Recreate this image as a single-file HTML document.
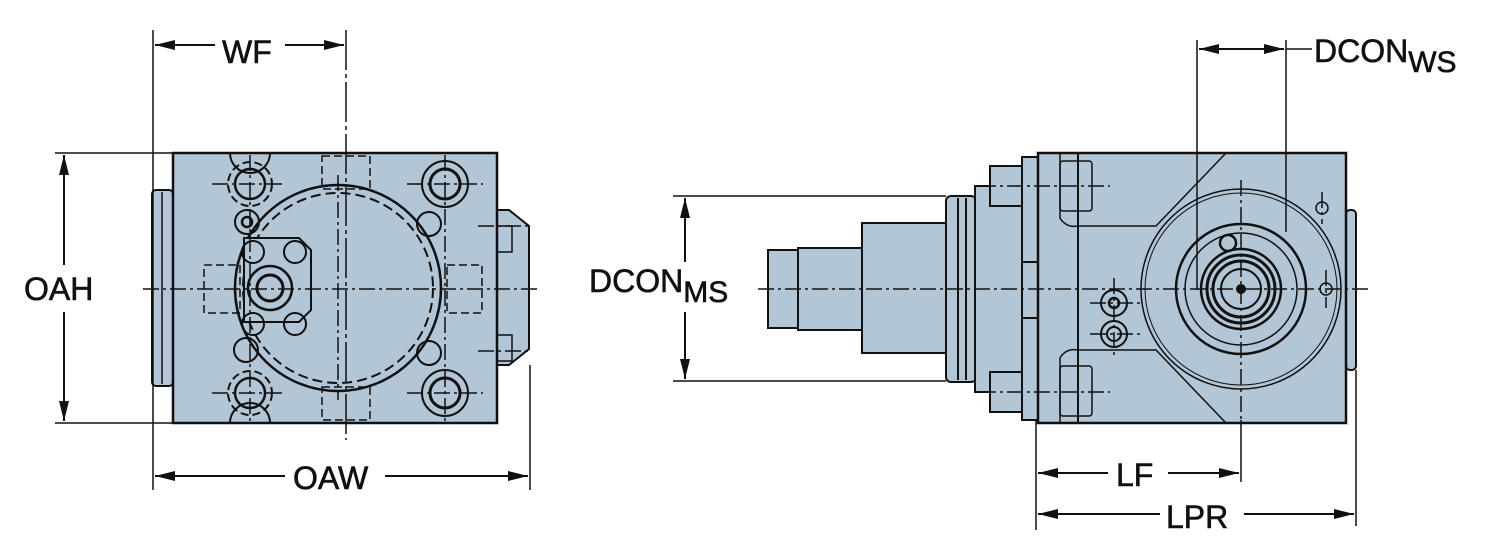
<!DOCTYPE html>
<html><head><meta charset="utf-8"><style>
html,body{margin:0;padding:0;background:#fff;width:1500px;height:542px;overflow:hidden}
svg{display:block}
text{font-family:"Liberation Sans",sans-serif;font-size:32px;fill:#111;stroke:#111;stroke-width:0.6}
</style></head><body>
<svg width="1500" height="542" viewBox="0 0 1500 542" xmlns="http://www.w3.org/2000/svg">
<defs>
<marker id="a" viewBox="0 0 20 10" refX="20" refY="5" markerWidth="20" markerHeight="10" markerUnits="userSpaceOnUse" orient="auto-start-reverse"><path d="M0,0 L20,5 L0,10 z" fill="#111"/></marker>
</defs>
<g stroke="#111" fill="none" stroke-width="2">
<!-- LEFT VIEW -->
<rect x="152" y="190" width="21" height="196" rx="4" fill="#b2c6d5"/>
<line x1="162" y1="192" x2="162" y2="384" stroke-width="1.5"/>
<path d="M497,210 h12 l20,16 v123 l-20,16 h-12 z" fill="#b2c6d5"/>
<rect x="497" y="226" width="15" height="26" fill="#b2c6d5" stroke-width="1.5"/>
<rect x="497" y="335" width="15" height="26" fill="#b2c6d5" stroke-width="1.5"/>
<rect x="173" y="153" width="324" height="270" fill="#b2c6d5" stroke-width="2.5"/>
<path d="M230,153 a20,20 0 0 0 40,0 M230,423 a20,20 0 0 1 40,0" stroke-width="2"/>
<circle cx="338" cy="288" r="103" stroke-width="2.5"/>
<circle cx="338" cy="288" r="95" stroke-dasharray="10,5"/>
<path d="M244,238 h55 l12,12 v60 l-12,12 h-55 z" fill="#b2c6d5"/>
<circle cx="270" cy="288" r="22" stroke-width="2.5"/><circle cx="270" cy="288" r="13" stroke-width="3"/>
<circle cx="253" cy="252" r="11"/><circle cx="295" cy="252" r="11"/><circle cx="253" cy="324" r="11"/><circle cx="295" cy="324" r="11"/>
<circle cx="247" cy="222" r="12"/><circle cx="247" cy="222" r="5" stroke-width="2.5"/>
<circle cx="246" cy="350" r="12"/>
<circle cx="429" cy="224" r="12"/><circle cx="429" cy="353" r="12"/>
<circle cx="250" cy="184" r="22" stroke-dasharray="8,4"/><circle cx="250" cy="184" r="15" stroke-width="2.5"/>
<circle cx="250" cy="393" r="22" stroke-dasharray="8,4"/><circle cx="250" cy="393" r="15" stroke-width="2.5"/>
<circle cx="445" cy="184" r="23"/><circle cx="445" cy="184" r="15" stroke-width="3"/>
<circle cx="445" cy="393" r="23"/><circle cx="445" cy="393" r="15" stroke-width="3"/>
<g stroke-dasharray="8,4" stroke-width="1.5">
<rect x="322" y="156" width="48" height="33"/><rect x="322" y="387" width="48" height="33"/>
<rect x="204" y="265" width="36" height="48"/><rect x="447" y="265" width="35" height="48"/>
</g>
<g stroke-dasharray="16,4,3,4" stroke-width="1.5">
<line x1="143" y1="289" x2="540" y2="289"/>
<line x1="338" y1="175" x2="338" y2="400"/>
<line x1="212" y1="184" x2="285" y2="184"/><line x1="212" y1="393" x2="285" y2="393"/>
<line x1="407" y1="184" x2="483" y2="184"/><line x1="407" y1="393" x2="483" y2="393"/>
<line x1="445" y1="155" x2="445" y2="425"/><line x1="250" y1="155" x2="250" y2="425"/>
<line x1="478" y1="226" x2="530" y2="226"/><line x1="478" y1="351" x2="530" y2="351"/>
</g>
<!-- left dims -->
<line x1="153" y1="30" x2="153" y2="490" stroke-width="1.5"/>
<line x1="346" y1="30" x2="346" y2="440" stroke-width="1.5" stroke-dasharray="40,4,4,4"/>
<line x1="530" y1="365" x2="530" y2="490" stroke-width="1.5"/>
<line x1="155" y1="45" x2="215" y2="45" marker-start="url(#a)"/>
<line x1="285" y1="45" x2="344" y2="45" marker-end="url(#a)"/>
<line x1="55" y1="153" x2="173" y2="153" stroke-width="1.5"/>
<line x1="55" y1="423" x2="173" y2="423" stroke-width="1.5"/>
<line x1="64" y1="155" x2="64" y2="265" marker-start="url(#a)"/>
<line x1="64" y1="312" x2="64" y2="421" marker-end="url(#a)"/>
<line x1="155" y1="476" x2="285" y2="476" marker-start="url(#a)"/>
<line x1="385" y1="476" x2="528" y2="476" marker-end="url(#a)"/>

<!-- RIGHT VIEW -->
<rect x="768" y="250" width="32" height="78" fill="#b2c6d5"/>
<rect x="798" y="248" width="66" height="82" fill="#b2c6d5"/>
<rect x="862" y="223" width="86" height="130" fill="#b2c6d5"/>
<rect x="946" y="196" width="30" height="186" rx="5" fill="#b2c6d5"/>
<line x1="958" y1="198" x2="958" y2="380"/><line x1="966" y1="198" x2="966" y2="380"/>
<rect x="975" y="186" width="65" height="206" fill="#b2c6d5"/>
<rect x="990" y="166" width="48" height="40" fill="#b2c6d5"/>
<rect x="990" y="372" width="48" height="40" fill="#b2c6d5"/>
<rect x="1022" y="157" width="18" height="263" fill="#b2c6d5"/>
<rect x="1022" y="262" width="28" height="56" fill="#b2c6d5"/>
<rect x="1346" y="210" width="10" height="160" rx="4" fill="#b2c6d5"/>
<rect x="1038" y="153" width="308" height="270" fill="#b2c6d5" stroke-width="2.5"/>
<path d="M1078,153 v270" />
<path d="M1060,153 v65 q6,10 18,8 h78 l70,-73" stroke-width="1.5"/>
<path d="M1060,423 v-65 q6,-10 18,-8 h78 l70,73" stroke-width="1.5"/>
<rect x="1060" y="161" width="32" height="50" rx="3" stroke-width="1.5"/>
<rect x="1060" y="366" width="32" height="50" rx="3" stroke-width="1.5"/>
<circle cx="1241" cy="289" r="100" stroke-width="1.5"/>
<circle cx="1241" cy="289" r="96" stroke-width="1"/>
<circle cx="1241" cy="289" r="65" stroke-width="2.5"/>
<circle cx="1241" cy="289" r="56" stroke-width="1.5"/>
<circle cx="1241" cy="289" r="40" stroke-width="2.5"/>
<circle cx="1241" cy="289" r="34" stroke-width="3"/>
<circle cx="1241" cy="289" r="28" stroke-width="3"/>
<circle cx="1241" cy="289" r="20" stroke-width="2"/>
<circle cx="1241" cy="289" r="4" fill="#111"/>
<circle cx="1228" cy="243" r="8" stroke-width="2.5"/>
<circle cx="1114" cy="303" r="13"/><circle cx="1114" cy="303" r="5" stroke-width="2.5"/>
<circle cx="1114" cy="334" r="13"/><circle cx="1114" cy="334" r="7"/>
<circle cx="1322" cy="208" r="6" stroke-width="1.5"/><circle cx="1326" cy="289" r="6" stroke-width="1.5"/>
<g stroke-dasharray="16,4,3,4" stroke-width="1.5">
<line x1="758" y1="289" x2="1370" y2="289"/>
<line x1="1241" y1="180" x2="1241" y2="420"/>
<line x1="980" y1="186" x2="1110" y2="186"/><line x1="980" y1="392" x2="1110" y2="392"/>
<line x1="1090" y1="303" x2="1140" y2="303"/><line x1="1090" y1="334" x2="1140" y2="334"/>
<line x1="1114" y1="278" x2="1114" y2="355"/>
<line x1="1322" y1="192" x2="1322" y2="224"/><line x1="1326" y1="270" x2="1326" y2="308"/>
</g>
<!-- right dims -->
<line x1="1197" y1="40" x2="1197" y2="290" stroke-width="1.5"/>
<line x1="1286" y1="40" x2="1286" y2="232" stroke-width="1.5"/>
<line x1="1199" y1="49" x2="1284" y2="49" marker-start="url(#a)" marker-end="url(#a)"/>
<line x1="1286" y1="49" x2="1312" y2="49" stroke-width="1.5"/>
<line x1="673" y1="196" x2="946" y2="196" stroke-width="1.5"/>
<line x1="673" y1="381" x2="946" y2="381" stroke-width="1.5"/>
<line x1="685" y1="198" x2="685" y2="262" marker-start="url(#a)"/>
<line x1="685" y1="312" x2="685" y2="379" marker-end="url(#a)"/>
<line x1="1036" y1="420" x2="1036" y2="530" stroke-width="1.5"/>
<line x1="1241" y1="420" x2="1241" y2="482" stroke-width="1.5"/>
<line x1="1356" y1="370" x2="1356" y2="526" stroke-width="1.5"/>
<line x1="1038" y1="473" x2="1108" y2="473" marker-start="url(#a)"/>
<line x1="1168" y1="473" x2="1239" y2="473" marker-end="url(#a)"/>
<line x1="1038" y1="514" x2="1160" y2="514" marker-start="url(#a)"/>
<line x1="1244" y1="514" x2="1354" y2="514" marker-end="url(#a)"/>
</g>
<text x="222" y="63">WF</text>
<text x="24" y="300">OAH</text>
<text x="293" y="489">OAW</text>
<text x="1314" y="62">DCON<tspan font-size="30" dy="10">WS</tspan></text>
<text x="589" y="292">DCON<tspan font-size="30" dy="10">MS</tspan></text>
<text x="1116" y="486">LF</text>
<text x="1166" y="528">LPR</text>
</svg>
</body></html>
